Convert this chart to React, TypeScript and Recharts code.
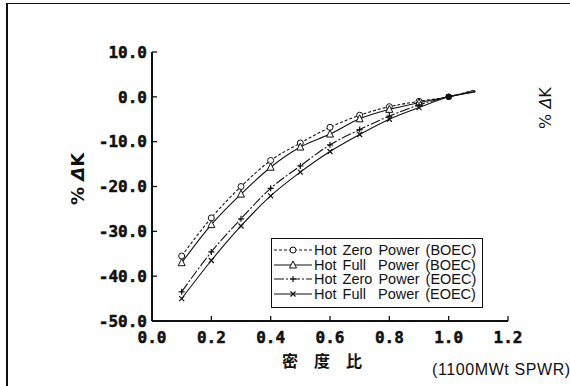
import React from 'react';
import { LineChart, Line, XAxis, YAxis } from 'recharts';

// density ratio (密度比) sampled in the figure
const densityRatio = [0.1, 0.2, 0.3, 0.4, 0.5, 0.6, 0.7, 0.8, 0.9, 1.0, 1.09];

// % ΔK for each case
const hzpBoec = [-35.5, -27.0, -20.0, -14.2, -10.3, -6.8, -4.1, -2.2, -1.0, 0, 1.6];
const hfpBoec = [-37.0, -28.5, -21.7, -15.7, -11.2, -8.3, -4.9, -2.8, -1.3, 0, 1.2];
const hzpEoec = [-43.5, -34.6, -27.2, -20.4, -15.4, -10.7, -7.3, -4.3, -1.8, 0, 1.4];
const hfpEoec = [-45.0, -36.5, -28.8, -22.1, -16.8, -12.2, -8.4, -5.0, -2.4, 0, 1.1];

const xTicks = [0, 0.2, 0.4, 0.6, 0.8, 1.0, 1.2];
const yTicks = [-50, -40, -30, -20, -10, 0, 10];

const legendLabels = [
  'Hot Zero Power (BOEC)',
  'Hot Full  Power (BOEC)',
  'Hot Zero Power (EOEC)',
  'Hot Full  Power (EOEC)',
];

const rows = densityRatio.map((r, i) => ({
  r,
  hzpBoec: hzpBoec[i],
  hfpBoec: hfpBoec[i],
  hzpEoec: hzpEoec[i],
  hfpEoec: hfpEoec[i],
}));

const INK = '#111';
const TICK_FONT = {
  fill: INK,
  stroke: INK,
  strokeWidth: 0.5,
  fontFamily: '"DejaVu Sans Mono", monospace',
  fontSize: 16,
  fontWeight: 'bold',
};

type Shape = 'circle' | 'triangle' | 'plus' | 'cross';

function Marker({ cx, cy, shape }: { cx: number; cy: number; shape: Shape }) {
  if (shape === 'circle') {
    return <circle cx={cx} cy={cy} r={3} fill="#fff" stroke={INK} strokeWidth={1} />;
  }
  if (shape === 'triangle') {
    return (
      <path
        d={`M${cx},${cy - 4} L${cx + 3.5},${cy + 3} L${cx - 3.5},${cy + 3} Z`}
        fill="#fff"
        stroke={INK}
        strokeWidth={1}
      />
    );
  }
  if (shape === 'plus') {
    return (
      <path d={`M${cx - 3},${cy} H${cx + 3} M${cx},${cy - 3} V${cy + 3}`} stroke={INK} strokeWidth={1.2} />
    );
  }
  return (
    <path
      d={`M${cx - 2.5},${cy - 2.5} L${cx + 2.5},${cy + 2.5} M${cx + 2.5},${cy - 2.5} L${cx - 2.5},${cy + 2.5}`}
      stroke={INK}
      strokeWidth={1.2}
    />
  );
}

const makeDot = (shape: Shape) => (props: any) => {
  const { cx, cy, payload, index } = props;
  const key = `${shape}-${index}`;
  if (payload.r > 1.05) return <g key={key} />;
  if (payload.r === 1) return <circle key={key} cx={cx} cy={cy} r={3} fill={INK} />;
  return (
    <g key={key}>
      <Marker cx={cx} cy={cy} shape={shape} />
    </g>
  );
};

const series: { key: string; shape: Shape; dash?: string }[] = [
  { key: 'hzpBoec', shape: 'circle', dash: '3 2' },
  { key: 'hfpBoec', shape: 'triangle' },
  { key: 'hzpEoec', shape: 'plus', dash: '10 2 2 2' },
  { key: 'hfpEoec', shape: 'cross' },
];

function LegendBox() {
  return (
    <div
      style={{
        position: 'absolute',
        left: 271,
        top: 238,
        width: 212,
        height: 70,
        border: `1px solid ${INK}`,
        background: '#fff',
        boxSizing: 'border-box',
        paddingTop: 4,
      }}
    >
      {series.map((s, i) => (
        <div key={s.key} style={{ display: 'flex', alignItems: 'center', height: 14.5 }}>
          <svg width={42} height={14} style={{ flex: 'none' }}>
            <line x1={2} x2={40} y1={7} y2={7} stroke={INK} strokeWidth={1.2} strokeDasharray={s.dash} />
            <Marker cx={21} cy={7} shape={s.shape} />
          </svg>
          <span
            style={{
              fontFamily: '"Liberation Sans", Arial, sans-serif',
              fontSize: 14.5,
              color: INK,
              whiteSpace: 'pre',
              wordSpacing: 2,
              lineHeight: '14px',
            }}
          >
            {legendLabels[i]}
          </span>
        </div>
      ))}
    </div>
  );
}

export default function App() {
  return (
    <div style={{ position: 'absolute', left: 0, top: 0, width: 570, height: 386, background: '#fff', overflow: 'hidden' }}>
      {/* scan frame */}
      <div style={{ position: 'absolute', left: 6, top: 3, width: 564, height: 383, borderLeft: `2px solid ${INK}`, borderTop: `1px solid ${INK}` }} />

      <LineChart width={570} height={386} data={rows} margin={{ top: 52, right: 62, bottom: 0, left: 0 }}>
        <XAxis
          dataKey="r"
          type="number"
          domain={[0, 1.2]}
          ticks={xTicks}
          tickFormatter={(v: number) => v.toFixed(1)}
          height={65}
          tickSize={-5}
          tickMargin={16}
          axisLine={{ stroke: INK, strokeWidth: 2 }}
          tickLine={{ stroke: INK, strokeWidth: 1.3 }}
          tick={TICK_FONT}
          interval={0}
        />
        <XAxis
          xAxisId="top"
          orientation="top"
          type="number"
          domain={[0, 1.2]}
          ticks={xTicks}
          height={0}
          tickSize={-5}
          tick={false}
          axisLine={{ stroke: INK, strokeWidth: 2 }}
          tickLine={{ stroke: INK, strokeWidth: 1.3 }}
        />
        <YAxis
          type="number"
          domain={[-50, 10]}
          ticks={yTicks}
          tickFormatter={(v: number) => v.toFixed(1)}
          width={152}
          tickSize={-5}
          tickMargin={10}
          axisLine={{ stroke: INK, strokeWidth: 2 }}
          tickLine={{ stroke: INK, strokeWidth: 1.3 }}
          tick={TICK_FONT}
          interval={0}
        />
        <YAxis
          yAxisId="right"
          orientation="right"
          type="number"
          domain={[-50, 10]}
          ticks={yTicks}
          width={0}
          tickSize={-5}
          tick={false}
          axisLine={{ stroke: INK, strokeWidth: 2 }}
          tickLine={{ stroke: INK, strokeWidth: 1.3 }}
        />
        {series.map((s) => (
          <Line
            key={s.key}
            type="monotone"
            dataKey={s.key}
            stroke={INK}
            strokeWidth={1.1}
            strokeDasharray={s.dash}
            dot={makeDot(s.shape)}
            activeDot={false}
            isAnimationActive={false}
          />
        ))}
      </LineChart>

      {/* axis titles */}
      <div
        style={{
          position: 'absolute',
          left: 77,
          top: 179,
          transform: 'translate(-50%, -50%) rotate(-90deg)',
          fontFamily: '"DejaVu Sans", sans-serif',
          fontWeight: 'bold',
          fontSize: 18,
          color: INK,
          whiteSpace: 'pre',
        }}
      >
        % <i>Δ</i>K
      </div>
      <div
        style={{
          position: 'absolute',
          left: 330,
          top: 360,
          transform: 'translate(-50%, -50%)',
          fontFamily: '"Noto Sans CJK JP", sans-serif',
          fontWeight: 'bold',
          fontSize: 16,
          color: INK,
          letterSpacing: 16,
          whiteSpace: 'pre',
        }}
      >
        密度比
      </div>
      <div
        style={{
          position: 'absolute',
          left: 432,
          top: 361,
          fontFamily: '"Liberation Sans", Arial, sans-serif',
          fontSize: 16,
          letterSpacing: 0.6,
          color: INK,
          whiteSpace: 'pre',
        }}
      >
        (1100MWt SPWR)
      </div>
      <div
        style={{
          position: 'absolute',
          left: 545,
          top: 108,
          transform: 'translate(-50%, -50%) rotate(-90deg)',
          fontFamily: '"DejaVu Sans", sans-serif',
          fontSize: 16,
          color: INK,
          whiteSpace: 'pre',
        }}
      >
        % <i>Δ</i>K
      </div>

      <LegendBox />
    </div>
  );
}
